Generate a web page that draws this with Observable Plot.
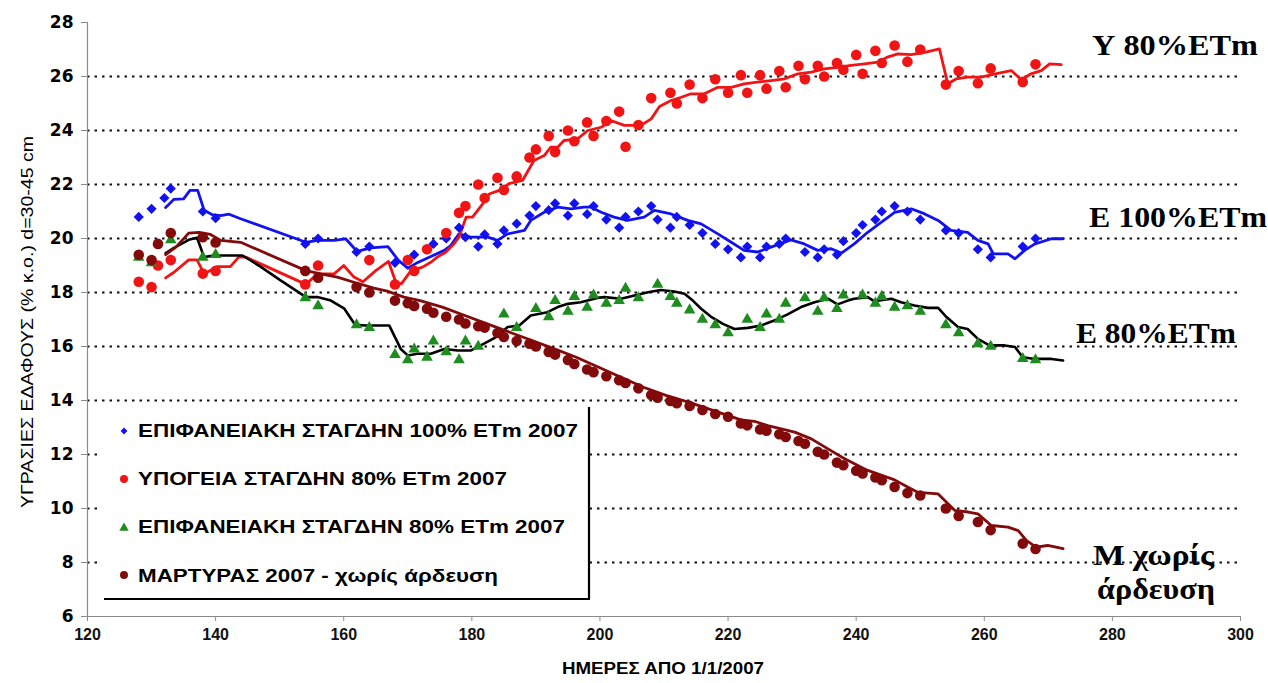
<!DOCTYPE html>
<html><head><meta charset="utf-8">
<script src="https://cdn.jsdelivr.net/npm/d3@7"></script>
<script src="https://cdn.jsdelivr.net/npm/@observablehq/plot@0.6"></script>
<style>html,body{margin:0;padding:0;background:#fff}#chart svg{display:block}</style>
</head><body><div id="chart"></div>
<script>
// ---------- DATA ----------
const xTicks = [120,140,160,180,200,220,240,260,280,300];
const yTicks = [6,8,10,12,14,16,18,20,22,24,26,28];
const gridValues = [8,10,12,14,16,18,20,22,24,26];

const seriesNames = ["ΕΠΙΦΑΝΕΙΑΚΗ ΣΤΑΓΔΗΝ 100% ΕΤm 2007","ΥΠΟΓΕΙΑ ΣΤΑΓΔΗΝ 80% ΕΤm 2007","ΕΠΙΦΑΝΕΙΑΚΗ ΣΤΑΓΔΗΝ 80% ΕΤm 2007","ΜΑΡΤΥΡΑΣ 2007 - χωρίς άρδευση"];
const sideLabels = ["Υ 80%ΕΤm","Ε 100%ΕΤm","Ε 80%ΕΤm","Μ χωρίς","άρδευση"];
const xTitle = "ΗΜΕΡΕΣ ΑΠΟ 1/1/2007";
const yTitle = "ΥΓΡΑΣΙΕΣ ΕΔΑΦΟΥΣ (% κ.ο.) d=30-45 cm";

// Blue: surface drip 100% ETm (measured)
const blueDotDays = [128,130,132,133,138,140,154,156,162,164,168,171,173,174,176,178,179,181,182,184,185,187,189,190,192,193,195,196,198,199,201,203,204,206,208,209,211,212,214,216,218,220,222,223,225,226,228,229,232,234,235,237,238,240,241,243,244,246,248,250,254,256,259,261,266,268];
const blueDotVals = [20.8,21.1,21.5,21.85,21.0,20.75,19.8,20.0,19.5,19.7,19.1,19.4,19.6,19.8,20.0,20.4,20.05,19.7,20.15,19.8,20.3,20.55,20.85,21.2,21.05,21.3,20.85,21.3,20.9,21.2,20.7,20.4,20.8,21.0,21.2,20.7,20.4,20.8,20.5,20.2,19.8,19.6,19.3,19.7,19.3,19.7,19.8,20.0,19.5,19.3,19.6,19.4,19.9,20.2,20.5,20.7,21.0,21.2,21.0,20.7,20.3,20.2,19.6,19.3,19.7,20.0];
const blueLineDays = [132.2,133.5,135,136,137.2,138.2,139.5,140.8,142.1,143.9,154.1,155.9,158.5,160.3,162.1,164.2,166.9,168.5,170,171.3,173.6,175.7,176.7,178,179.8,182.5,184,185.6,188.2,189.2,191.3,193.4,195.5,197.5,198.6,200.2,202.2,204.3,206.9,208.5,211.1,213.7,215.8,218.4,220.5,222.5,224.6,226.7,229.8,231.9,234,236.1,237.7,239.7,241.8,243.9,246,248.6,250.7,252.8,254.8,257.4,259,260.6,261.4,263.7,264.8,266.3,267.9,270.5,272.3];
const blueLineVals = [21.15,21.45,21.47,21.78,21.78,21.05,20.88,20.85,20.9,20.73,19.86,19.93,19.93,19.99,19.52,19.65,19.7,19.2,18.9,19.08,19.33,19.56,19.74,20.17,20.05,20.05,19.93,20.17,20.3,20.67,20.97,21.16,21.1,21.16,21.16,20.97,20.79,20.67,20.79,21.04,20.91,20.67,20.54,20.17,19.86,19.56,19.5,19.68,19.95,19.8,19.56,19.62,19.46,19.8,20.23,20.6,20.97,21.1,20.91,20.67,20.3,20.23,19.93,19.8,19.43,19.43,19.25,19.56,19.8,19.99,19.99];

// Red: subsurface drip 80% ETm
const redDotDays = [128,130,131,133,138,140,154,156,164,168,170,171,173,176,178,179,181,182,184,185,187,189,190,192,193,195,196,198,199,201,203,204,206,208,211,212,214,216,218,220,222,223,225,226,228,229,231,232,234,235,237,238,240,241,243,244,246,248,250,254,256,259,261,266,268];
const redDotVals = [18.4,18.2,19.0,19.2,18.7,18.8,18.3,19.0,19.2,18.3,19.2,18.8,19.6,20.2,20.95,21.2,22.0,21.5,22.25,21.8,22.3,23.0,23.3,23.8,23.2,24.0,23.6,24.3,23.8,24.35,24.7,23.4,24.2,25.2,25.4,25.0,25.7,25.2,25.9,25.4,26.05,25.4,26.05,25.55,26.2,25.6,26.4,25.9,26.4,26.0,26.5,26.25,26.8,26.1,26.95,26.5,27.15,26.55,27.0,25.7,26.2,25.75,26.3,25.8,26.45];
const redLineDays = [132.2,133.5,135.8,137.1,138.2,140.3,142.3,143.6,144.7,154.1,155.9,158.5,160,161.6,163,165,167,168.1,169,170.5,172.3,173.6,174.6,175.9,177.2,178,179.1,180.1,181.7,182.7,184.3,185.8,187.9,189.7,191.3,192.3,193.4,194.4,196.5,198.1,200.2,201.7,203.8,206.4,208,209.3,211.1,212.7,214.2,216.3,218.4,220.5,222.5,224.6,226.7,228.8,230.9,233,235,237.1,239.2,241.3,243.4,244.9,246.5,248.6,250.9,253,254.3,255.6,257.4,259.5,262.1,264.2,265.8,267.3,268.9,270.2,272];
const redLineVals = [18.54,18.75,19.21,19.21,18.69,18.96,18.96,19.31,19.31,18.3,18.69,18.69,19.0,18.57,18.4,18.81,19.15,18.4,18.32,18.81,18.94,19.12,19.31,19.49,19.8,20.05,20.79,20.79,21.28,21.65,21.78,22.03,22.15,22.89,23.07,23.38,23.38,23.63,23.69,24.0,24.12,24.37,24.19,24.19,24.43,24.89,25.11,25.23,25.36,25.36,25.6,25.6,25.73,25.79,25.85,25.91,26.1,26.16,26.28,26.34,26.41,26.47,26.53,26.72,26.84,26.81,26.9,27.02,25.73,25.91,25.98,25.98,26.12,26.22,25.88,26.1,26.22,26.47,26.44];

// Green: surface drip 80% ETm (black fitted line)
const greenDotDays = [128,130,133,138,140,154,156,162,164,168,170,171,173,174,176,178,179,181,185,187,190,192,193,195,196,198,199,201,203,204,206,209,211,212,214,216,218,220,223,225,226,228,229,232,234,235,237,238,241,243,244,246,248,250,254,256,259,261,266,268];
const greenDotVals = [19.3,19.1,19.95,19.3,19.4,17.8,17.5,16.8,16.7,15.7,15.5,15.9,15.6,16.2,15.8,15.5,16.2,16.0,17.2,16.7,17.4,17.1,17.7,17.3,17.85,17.45,17.9,17.6,17.7,18.15,17.8,18.3,17.85,17.6,17.35,17.0,16.8,16.5,17.0,16.7,17.2,17.0,17.6,17.8,17.3,17.8,17.4,17.9,17.9,17.6,17.85,17.45,17.5,17.3,16.8,16.5,16.1,16.0,15.55,15.5];
const blackLineDays = [132.2,133.5,135.8,137.1,138.2,139.7,144.2,147,150.2,154.1,155.9,158,160.1,161.8,163.5,167.1,168.9,170,171.5,173.6,175.7,177.8,179.8,181.4,183.5,185.6,187.4,189.2,191.8,193.4,195,197,199.6,200.7,203.3,205.4,207.5,209.5,211.6,213.2,214.5,215.8,217.3,219.2,221,223.1,225.2,227.2,229.3,231.4,233.5,235.6,237.1,238.7,239.7,241.8,242.8,245.5,247,249.1,251.2,252.8,254.1,255.9,257.4,259,260.8,263.2,264.8,266,267.9,270.5,272.3];
const blackLineVals = [19.46,19.65,19.95,20.03,19.31,19.37,19.37,18.96,18.44,17.83,17.83,17.7,17.4,16.8,16.78,16.78,15.91,15.67,15.73,15.73,15.91,15.85,15.85,16.04,16.31,16.72,16.78,17.15,17.27,17.46,17.58,17.64,17.8,17.83,17.77,17.89,18.01,18.09,18.04,17.95,17.7,17.4,17.11,16.84,16.65,16.69,16.78,16.96,17.19,17.46,17.64,17.77,17.56,17.7,17.77,17.83,17.68,17.77,17.64,17.52,17.43,17.43,17.09,16.72,16.65,16.28,16.04,16.04,15.98,15.6,15.54,15.54,15.48];

// Maroon: control, no irrigation
const maroonDotDays = [128,130,131,133,138,140,154,156,162,164,168,170,171,173,174,176,178,179,181,182,184,185,187,189,190,192,193,195,196,198,199,201,203,204,206,208,209,211,212,214,216,218,220,222,223,225,226,228,229,231,232,234,235,237,238,240,241,243,244,246,248,250,254,256,259,261,266,268];
const maroonDotVals = [19.4,19.2,19.8,20.2,20.05,19.85,18.8,18.55,18.2,18.0,17.7,17.6,17.5,17.4,17.25,17.1,17.0,16.85,16.75,16.7,16.5,16.35,16.2,16.1,16.0,15.8,15.7,15.5,15.35,15.15,15.05,14.9,14.75,14.65,14.45,14.2,14.1,13.98,13.9,13.8,13.65,13.5,13.4,13.15,13.08,12.93,12.88,12.75,12.65,12.5,12.4,12.1,12.0,11.7,11.6,11.4,11.3,11.15,11.05,10.8,10.57,10.48,10.0,9.72,9.5,9.2,8.7,8.5];
const maroonLineDays = [132.2,133.8,135.8,137.4,139.2,140.8,143.9,154.1,156.4,159,161.6,164.7,166.8,169.4,171.9,175.4,178.9,182.4,185.9,189.4,192.9,196.3,199.8,203.3,206.8,210.3,213.8,215.8,218.9,222,224.1,226.2,230.4,233,235.6,238.2,241.8,246,248.1,249.6,252.8,255.4,257.5,259,261.1,263.7,265.3,266.6,268.1,269.9,272.3];
const maroonLineVals = [19.4,19.68,20.2,20.23,20.15,19.93,19.86,18.81,18.69,18.57,18.38,18.16,18.05,17.83,17.7,17.46,17.15,16.84,16.53,16.22,15.91,15.6,15.23,14.86,14.49,14.19,13.94,13.78,13.53,13.28,13.23,13.07,12.83,12.58,12.21,11.84,11.41,11.06,10.79,10.6,10.54,9.93,9.87,9.8,9.37,9.31,9.18,8.81,8.57,8.63,8.51];

// ---------- STYLE ----------
const C = {blue:"#1212f0", red:"#f01414", green:"#1e8c1e", black:"#000000", maroon:"#820a0a", axis:"#8a8a8a", grid:"#111111"};
const zip = (ds, vs) => ds.map((d, i) => ({day: d, v: vs[i]}));

const plot = Plot.plot({
  width: 1268, height: 683,
  marginLeft: 87, marginRight: 28, marginTop: 22, marginBottom: 67,
  style: {background: "white", fontFamily: "Liberation Sans, Arial, sans-serif", color: "black"},
  x: {domain: [120, 300]},
  y: {domain: [6, 28]},
  marks: [
    Plot.ruleY(gridValues, {stroke: C.grid, strokeWidth: 1.9, strokeDasharray: "2.5,5"}),
    Plot.ruleX([120], {stroke: C.axis, strokeWidth: 1.2}),
    Plot.ruleY([6], {stroke: C.axis, strokeWidth: 1.2}),
    Plot.axisY({ticks: yTicks, tickSize: 6, tickPadding: 8, stroke: C.axis, fill: "black", fontSize: 17, fontWeight: "bold", fontFamily: "DejaVu Sans", label: null}),
    Plot.axisX({ticks: xTicks, tickSize: 5, tickPadding: 7, stroke: C.axis, fill: "#111", fontSize: 16, fontWeight: "bold", fontFamily: "Liberation Sans", label: null}),
    Plot.line(zip(blueLineDays, blueLineVals), {x: "day", y: "v", stroke: C.blue, strokeWidth: 2.8}),
    Plot.line(zip(redLineDays, redLineVals), {x: "day", y: "v", stroke: C.red, strokeWidth: 2.8}),
    Plot.line(zip(blackLineDays, blackLineVals), {x: "day", y: "v", stroke: C.black, strokeWidth: 2.6}),
    Plot.line(zip(maroonLineDays, maroonLineVals), {x: "day", y: "v", stroke: C.maroon, strokeWidth: 2.8}),
    Plot.dot(zip(blueDotDays, blueDotVals), {x: "day", y: "v", symbol: "diamond2", r: 4.6, fill: C.blue}),
    Plot.dot(zip(redDotDays, redDotVals), {x: "day", y: "v", symbol: "circle", r: 5.3, fill: C.red}),
    Plot.dot(zip(greenDotDays, greenDotVals), {x: "day", y: "v", symbol: "triangle", r: 4.3, fill: C.green}),
    Plot.dot(zip(maroonDotDays, maroonDotVals), {x: "day", y: "v", symbol: "circle", r: 5.3, fill: C.maroon})
  ]
});
document.getElementById("chart").appendChild(plot);

// ---------- ANNOTATIONS (legend, titles, side labels) ----------
const svg = d3.select(plot);
function txt(g, s, x, y, size, weight, family, len, anchor) {
  const t = g.append("text").attr("x", x).attr("y", y).attr("font-size", size)
    .attr("font-weight", weight).attr("font-family", family).attr("fill", "black")
    .attr("text-anchor", anchor || "start").text(s);
  if (len) t.attr("textLength", len).attr("lengthAdjust", "spacingAndGlyphs");
  return t;
}
// axis titles
txt(svg, xTitle, 663, 674, 16, "bold", "Liberation Sans", 202, "middle");
txt(svg.append("g").attr("transform", "translate(33,322) rotate(-90)"), yTitle, 0, 0, 17, "normal", "Liberation Sans", 372, "middle");

// side labels
const sidePos = [[1092,55,166],[1089,227,178],[1076,343,160],[1093,565,121],[1097,599,118]];
sideLabels.forEach((s, i) => txt(svg, s, sidePos[i][0], sidePos[i][1], 29, "bold", "Liberation Serif", sidePos[i][2]));

// legend
const lg = svg.append("g");
lg.append("rect").attr("x", 100).attr("y", 405).attr("width", 488).attr("height", 193).attr("fill", "white");
lg.append("line").attr("x1", 589).attr("x2", 589).attr("y1", 407).attr("y2", 599).attr("stroke", "black").attr("stroke-width", 2.2);
lg.append("line").attr("x1", 104).attr("x2", 590).attr("y1", 599).attr("y2", 599).attr("stroke", "black").attr("stroke-width", 2.2);
const legSym = [[d3.symbolDiamond2, C.blue, 30], [d3.symbolCircle, C.red, 50], [d3.symbolTriangle, C.green, 38], [d3.symbolCircle, C.maroon, 50]];
const legY = [431, 479, 528, 575];
const legBase = [437, 485, 533, 582];
const legLen = [440, 369, 427, 360];
seriesNames.forEach((s, i) => {
  lg.append("path").attr("d", d3.symbol(legSym[i][0], legSym[i][2])()).attr("fill", legSym[i][1])
    .attr("transform", `translate(124,${legY[i]})`);
  txt(lg, s, 138, legBase[i], 18, "bold", "Liberation Sans", legLen[i]);
});
</script></body></html>
